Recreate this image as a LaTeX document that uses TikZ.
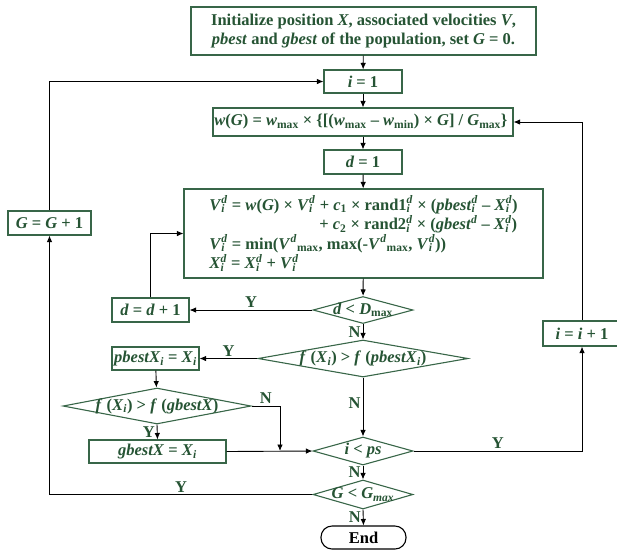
\documentclass[tikz,border=0pt]{standalone}
\usepackage{fontspec}
\setmainfont{Liberation Serif}
\usetikzlibrary{shapes.geometric, arrows.meta, positioning}
\definecolor{boxgreen}{RGB}{56, 102, 72}
\definecolor{textgreen}{RGB}{38, 84, 52}
% stacked sub- and superscript in text mode
\newcommand{\subsup}[2]{\begingroup\setbox0=\hbox{\textsuperscript{#2}}\setbox2=\hbox{\textsubscript{#1}}%
  \ifdim\wd0>\wd2\relax\rlap{\box2}\box0\else\rlap{\box0}\box2\fi\endgroup}
\newcommand{\idx}{\subsup{\textit{i}}{\textit{d}}}
\begin{document}
\begin{tikzpicture}[
    x=1pt, y=-1pt,
    font=\fontsize{16.5}{19.5}\selectfont\bfseries,
    process/.style={rectangle, draw=boxgreen, line width=1.1pt, text=textgreen,
                    inner sep=0pt, align=center},
    decision/.style={diamond, draw=boxgreen, line width=1.1pt, text=textgreen, inner sep=0pt},
    terminal/.style={rectangle, rounded corners=11pt, draw=black, line width=1.1pt,
                     inner sep=0pt, minimum width=85pt, minimum height=23pt},
    flow/.style={-{Latex[length=6.5pt, width=5.5pt]}, line width=0.9pt},
    yn/.style={text=textgreen, inner sep=2pt}
]
\useasboundingbox (0,0) rectangle (617,550);

% Initialization
\node[process, minimum width=345pt, minimum height=48pt] (init) at (363.5,31) {
    Initialize position \textit{X}, associated velocities \textit{V},\\
    \textit{pbest} and \textit{gbest} of the population, set \textit{G} = 0.
};
\node[process, minimum width=78pt, minimum height=23pt] (ione) at (363,81.5) {\textit{i} = 1};
\node[process, minimum width=300pt, minimum height=28pt] (weight) at (363,122) {
    \textit{w}(\textit{G}) = \textit{w}\textsubscript{max} × \{[(\textit{w}\textsubscript{max} – \textit{w}\textsubscript{min}) × \textit{G}] / \textit{G}\textsubscript{max}\}
};
\node[process, minimum width=78pt, minimum height=24pt] (done) at (363,162) {\textit{d} = 1};

% Velocity and position update
\node[process, minimum width=359pt, minimum height=89pt, align=left] (update) at (363.5,233.5) {
    \textit{V}\idx{} = \textit{w}(\textit{G}) × \textit{V}\idx{} + \textit{c}\textsubscript{1} × rand1\idx{} × (\textit{pbest}\idx{} – \textit{X}\idx)\\
    \hspace*{110pt}+ \textit{c}\textsubscript{2} × rand2\idx{} × (\textit{gbest}\textsuperscript{\textit{d}} – \textit{X}\idx)\\
    \textit{V}\idx{} = min(\textit{V}\textsuperscript{\textit{d}}\textsubscript{max}, max(-\textit{V}\textsuperscript{\textit{d}}\textsubscript{max}, \textit{V}\idx))\\
    \textit{X}\idx{} = \textit{X}\idx{} + \textit{V}\idx
};

% Dimension loop
\node[decision, minimum width=100pt, minimum height=27pt] (dmax) at (363,310) {\makebox[0pt]{\textit{d} < \textit{D}\textsubscript{max}}};
\node[process, minimum width=77pt, minimum height=24pt] (dnext) at (150.5,310) {\textit{d} = \textit{d} + 1};

% Personal and global best
\node[decision, minimum width=210pt, minimum height=37pt] (fpbest) at (363,358.5) {\makebox[0pt]{\textit{f} (\textit{X}\textsubscript{\textit{i}}) > \textit{f} (\textit{pbestX}\textsubscript{\textit{i}})}};
\node[process, minimum width=87pt, minimum height=23pt] (pbest) at (155.5,358.5) {\textit{pbestX}\textsubscript{\textit{i}} = \textit{X}\textsubscript{\textit{i}}};
\node[decision, minimum width=188pt, minimum height=36pt] (fgbest) at (157,406) {\makebox[0pt]{\textit{f} (\textit{X}\textsubscript{\textit{i}}) > \textit{f} (\textit{gbestX})}};
\node[process, minimum width=137pt, minimum height=23pt] (gbest) at (157.5,451.5) {\textit{gbestX} = \textit{X}\textsubscript{\textit{i}}};
\coordinate (join) at (280,451);

% Particle and generation loops
\node[decision, minimum width=100pt, minimum height=28pt] (ips) at (363,451) {\makebox[0pt]{\textit{i} < \textit{ps}}};
\node[decision, minimum width=100pt, minimum height=29pt] (gmax) at (363,494.5) {\makebox[0pt]{\textit{G} < \textit{G}\textsubscript{\textit{max}}}};
\node[terminal] (stop) at (363.5,537.5) {End};
\node[process, minimum width=78pt, minimum height=25pt] (inext) at (582,333.5) {\textit{i} = \textit{i} + 1};
\node[process, minimum width=83pt, minimum height=24pt] (gnext) at (49.5,223) {\textit{G} = \textit{G} + 1};

% Connectors
\draw[flow] (init) -- (ione);
\draw[flow] (ione) -- (weight);
\draw[flow] (weight) -- (done);
\draw[flow] (done) -- (update);
\draw[flow] (update) -- (dmax);
\draw[flow] (dmax.west) -- node[yn, above] {Y} (dnext.east);
\draw[flow] (dnext.north) |- (update.west);
\draw[flow] (dmax.south) -- node[yn, left] {N} (fpbest.north);
\draw[flow] (fpbest.west) -- node[yn, above] {Y} (pbest.east);
\draw[flow] (fpbest.south) -- node[yn, left, pos=0.43] {N} (ips.north);
\draw[flow] (pbest) -- (fgbest);
\draw[flow] (fgbest.south) -- node[yn, left] {Y} (gbest.north);
\draw[flow] (fgbest.east) -| node[yn, above, pos=0.25] {N} (join);
\draw[flow] (gbest.east) -- (ips.west);
\draw[flow] (ips.south) -- node[yn, left] {N} (gmax.north);
\draw[flow] (gmax.south) -- node[yn, left] {N} (stop.north);
\draw[flow] (ips.east) -| node[yn, above, pos=0.25] {Y} (inext.south);
\draw[flow] (inext.north) |- (weight.east);
\draw[flow] (gmax.west) -| node[yn, above, pos=0.25] {Y} (gnext.south);
\draw[flow] (gnext.north) |- (ione.west);

\end{tikzpicture}
\end{document}
